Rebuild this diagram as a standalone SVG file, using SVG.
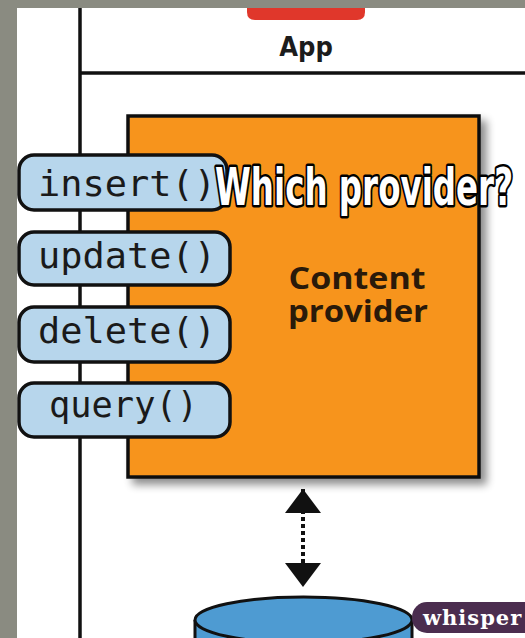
<svg xmlns="http://www.w3.org/2000/svg" width="525" height="638" viewBox="0 0 525 638">
<defs>
<style>
.pill{fill:#b7d6ec;stroke:#111;stroke-width:3.5}
.mono{font-family:"DejaVu Sans Mono","Liberation Mono",monospace;font-size:35px;fill:#1a1a1a}
.line{stroke:#111;stroke-width:3.5;fill:none}
.cp{font-family:"Open Sans","Noto Sans",sans-serif;font-weight:bold;font-size:30px;fill:#2a1a0a}
</style>
<filter id="sh" x="-10%" y="-10%" width="130%" height="130%">
<feGaussianBlur in="SourceAlpha" stdDeviation="4"/>
<feOffset dx="6" dy="6"/>
<feComponentTransfer><feFuncA type="linear" slope="0.45"/></feComponentTransfer>
<feMerge><feMergeNode/><feMergeNode in="SourceGraphic"/></feMerge>
</filter>
<marker id="ah" viewBox="0 0 24 36" refX="24" refY="18" markerWidth="6" markerHeight="9" orient="auto-start-reverse" markerUnits="strokeWidth">
<path d="M0,0 L24,18 L0,36 z" fill="#111"/>
</marker>
</defs>
<rect x="0" y="0" width="525" height="638" fill="#8a8b81"/>
<rect x="17" y="8" width="508" height="630" fill="#ffffff"/>
<g id="app">
<path d="M247,8 H365 V12 Q365,20 357,20 H255 Q247,20 247,12 Z" fill="#e0372b"/>
<text x="306" y="56" text-anchor="middle" font-family="'DejaVu Sans Condensed','DejaVu Sans',sans-serif" font-stretch="condensed" font-weight="bold" font-size="27" fill="#1c1c1c">App</text>
</g>
<g id="frame">
<line class="line" x1="80" y1="8" x2="80" y2="638"/>
<line class="line" x1="80" y1="73" x2="525" y2="73"/>
</g>
<g id="content-provider">
<rect x="128" y="116" width="351" height="361" fill="#f7941f" stroke="#111" stroke-width="3.5" filter="url(#sh)"/>
<text class="cp" x="357" y="289" text-anchor="middle" textLength="137" lengthAdjust="spacingAndGlyphs">Content</text>
<text class="cp" x="358" y="322" text-anchor="middle" textLength="140" lengthAdjust="spacingAndGlyphs">provider</text>
</g>
<g id="insert">
<rect class="pill" x="19" y="155" width="208" height="55" rx="15"/>
<text class="mono" x="38" y="196" textLength="178" lengthAdjust="spacingAndGlyphs">insert()</text>
</g>
<g id="update">
<rect class="pill" x="19" y="232" width="211" height="53" rx="15"/>
<text class="mono" x="38" y="268" textLength="178" lengthAdjust="spacingAndGlyphs">update()</text>
</g>
<g id="delete">
<rect class="pill" x="19" y="307" width="211" height="55" rx="15"/>
<text class="mono" x="38" y="343" textLength="178" lengthAdjust="spacingAndGlyphs">delete()</text>
</g>
<g id="query">
<rect class="pill" x="19" y="383" width="211" height="54" rx="15"/>
<text class="mono" x="49" y="417" textLength="149" lengthAdjust="spacingAndGlyphs">query()</text>
</g>
<g id="connectors">
<line x1="303" y1="489" x2="303" y2="587" stroke="#111" stroke-width="4" stroke-dasharray="4,3" marker-start="url(#ah)" marker-end="url(#ah)"/>
</g>
<g id="database">
<path d="M195,620 L195,645 L412,645 L412,620" fill="#4e9bd2" stroke="#111" stroke-width="3"/>
<ellipse cx="303.5" cy="620" rx="108.5" ry="23" fill="#4e9bd2" stroke="#111" stroke-width="3"/>
</g>
<g id="overlay">
<text x="364" y="205" text-anchor="middle" font-family="'DejaVu Sans Condensed','DejaVu Sans',sans-serif" font-stretch="condensed" font-weight="bold" font-size="52" fill="#ffffff" stroke="#000" stroke-width="5" paint-order="stroke" stroke-linejoin="round" textLength="298" lengthAdjust="spacingAndGlyphs">Which provider?</text>
</g>
<g id="whisper">
<rect x="412" y="602" width="130" height="31" rx="15" fill="#4b2d4f"/>
<text x="423" y="625" font-family="'DejaVu Serif','Liberation Serif',serif" font-weight="bold" font-size="21" fill="#ffffff" letter-spacing="1">whisper</text>
</g>
</svg>
